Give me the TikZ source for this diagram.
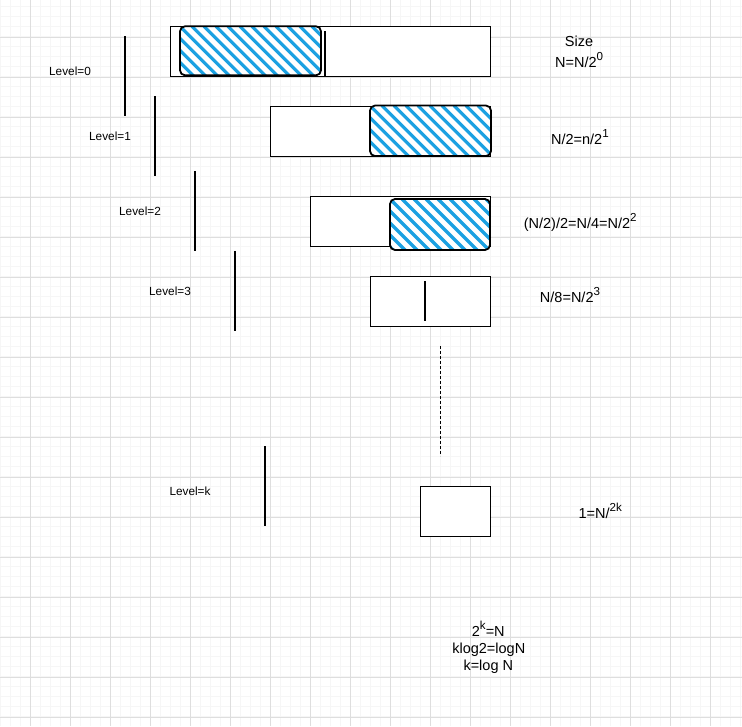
\documentclass[tikz,border=0pt]{standalone}
\usepackage{fontspec}
\setmainfont{Liberation Sans}
\usetikzlibrary{positioning}
\definecolor{hatchblue}{HTML}{1BA1E2}
\definecolor{gridmajor}{HTML}{DEDEDE}
\definecolor{gridminor}{HTML}{F6F6F6}
\newcommand\supx[1]{\raisebox{6.8pt}{\fontsize{11.6}{12}\selectfont #1}}

\begin{document}
\begin{tikzpicture}[
    x=1pt, y=-1pt,
    cell/.style={draw, fill=white, line width=1pt, minimum height=50pt, inner sep=0pt},
    half/.style={draw, line width=1.8pt, rounded corners=5pt, fill=white, inner sep=0pt,
        path picture={\foreach \c in {-60,-48,...,156}
            \draw[hatchblue, line width=3.2pt, line cap=round]
                ([xshift=\c pt]path picture bounding box.north west) -- ++(64pt,-64pt);}},
    bar/.style={line width=2pt},
    lvl/.style={font=\fontsize{11.8}{14}\selectfont},
    sizelbl/.style={font=\fontsize{14.5}{17}\selectfont, anchor=base, inner sep=0pt}
]
\useasboundingbox (0,0) rectangle (742,726);

% grid paper
\fill[white] (0,0) rectangle (742,726);
\foreach \gx in {0,10,...,740} \draw[gridminor, line width=0.8pt] (\gx,0) -- (\gx,726);
\foreach \gy in {6.7,16.7,...,726} \draw[gridminor, line width=0.8pt] (0,\gy) -- (742,\gy);
\foreach \gx in {30,70,...,710} \draw[gridmajor] (\gx,0) -- (\gx,726);
\foreach \gy in {36.7,76.7,...,716.7} \draw[gridmajor] (0,\gy) -- (742,\gy);

% arrays at each level
\node[cell, minimum width=320pt] (r0) at (330.5,51.2) {};
\node[half, minimum width=141pt, minimum height=49pt] (h0) at (250.5,50.8) {};
\draw[bar] (324.7,31) -- (324.7,76);

\node[cell, minimum width=220pt] (r1) at (380.5,131.3) {};
\node[half, minimum width=121pt, minimum height=50.5pt] (h1) at (430.5,130.8) {};

\node[cell, minimum width=180pt] (r2) at (400.5,221) {};
\node[half, minimum width=100pt, minimum height=51pt] (h2) at (440,224.5) {};

\node[cell, minimum width=120pt] (r3) at (430,301.3) {};
\draw[bar] (425,281) -- (425,321);

\draw[line width=1pt, dash pattern=on 3pt off 2pt] (440,346) -- (440,456);

\node[cell, minimum width=70pt] (rk) at (455,511) {};

% level bars and labels
\draw[bar] (125,36) -- (125,116);
\draw[bar] (155,96) -- (155,176);
\draw[bar] (195,171) -- (195,251);
\draw[bar] (235,251) -- (235,331);
\draw[bar] (265,446) -- (265,526);
\node[lvl] (l0) at (70,71) {Level=0};
\node[lvl] (l1) at (110,136) {Level=1};
\node[lvl] (l2) at (140,211) {Level=2};
\node[lvl] (l3) at (170,291) {Level=3};
\node[lvl] (lk) at (190,491) {Level=k};

% sizes
\node[sizelbl] (sz) at (579,46.3) {Size};
\node[sizelbl] (s0) at (579.2,67.3) {N=N/2\supx{0}};
\node[sizelbl] (s1) at (579.9,144) {N/2=n/2\supx{1}};
\node[sizelbl] (s2) at (580.2,228) {(N/2)/2=N/4=N/2\supx{2}};
\node[sizelbl] (s3) at (570,302.6) {N/8=N/2\supx{3}};
\node[sizelbl] (sk) at (600.2,518) {1=N/\supx{2k}};

% conclusion
\node[sizelbl] (c1) at (488.3,636) {2\supx{k}=N};
\node[sizelbl] (c2) at (488.8,653) {klog2=logN};
\node[sizelbl] (c3) at (488.3,670) {k=log N};
\end{tikzpicture}
\end{document}
